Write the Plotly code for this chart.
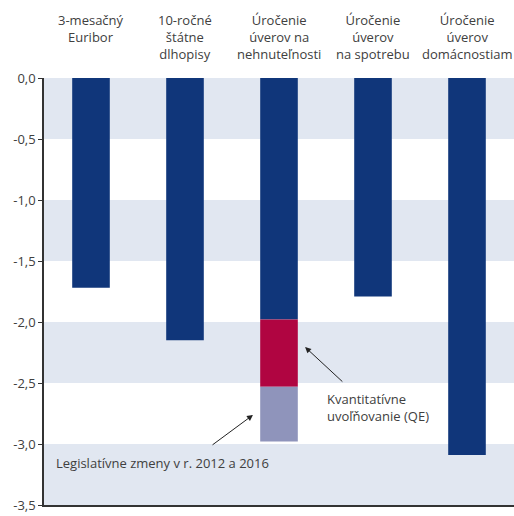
import plotly.graph_objects as go

categories = ["3-mesačný<br>Euribor", "10-ročné<br>štátne<br>dlhopisy",
              "Úročenie<br>úverov na<br>nehnuteľnosti", "Úročenie<br>úverov<br>na spotrebu",
              "Úročenie<br>úverov<br>domácnostiam"]
base_values = [-1.72, -2.15, -1.98, -1.79, -3.09]
qe_values = [0, 0, -0.55, 0, 0]
legis_values = [0, 0, -0.45, 0, 0]
y_ticks = [0.0, -0.5, -1.0, -1.5, -2.0, -2.5, -3.0, -3.5]
y_tick_labels = ["0,0", "-0,5", "-1,0", "-1,5", "-2,0", "-2,5", "-3,0", "-3,5"]

NAVY = "#10367a"
RED = "#b00541"
LAV = "#8f94bb"
BAND = "#e1e7f1"
TXT = "#404040"
FONT = "Open Sans"

xs = list(range(len(categories)))
fig = go.Figure()
fig.add_bar(x=xs, y=base_values, marker_color=NAVY, marker_line_width=0, width=0.4)
fig.add_bar(x=xs, y=qe_values, marker_color=RED, marker_line_width=0, width=0.4)
fig.add_bar(x=xs, y=legis_values, marker_color=LAV, marker_line_width=0, width=0.4)

shapes = []
for top in [0.0, -1.0, -2.0, -3.0]:
    shapes.append(dict(type="rect", xref="paper", yref="y", x0=0, x1=1, y0=top, y1=top - 0.5,
                       fillcolor=BAND, line_width=0, layer="below"))

annotations = []
for i, c in enumerate(categories):
    annotations.append(dict(x=i, y=1, xref="x", yref="paper", text=c, showarrow=False,
                            yanchor="top", yshift=69, align="center",
                            font=dict(family=FONT, size=13, color=TXT)))

annotations.append(dict(x=2.49, y=-2.54, xref="x", yref="y", text="Kvantitatívne<br>uvoľňovanie (QE)",
                        showarrow=False, xanchor="left", yanchor="top", align="left",
                        font=dict(family=FONT, size=13, color=TXT)))
annotations.append(dict(x=-0.394, y=-3.156, xref="x", yref="y", text="Legislatívne zmeny v r. 2012 a 2016",
                        showarrow=False, xanchor="left", yanchor="middle", align="left",
                        font=dict(family=FONT, size=13, color=TXT)))
# arrows
annotations.append(dict(x=2.277, y=-2.205, ax=2.69, ay=-2.5, xref="x", yref="y", axref="x", ayref="y",
                        text="", showarrow=True, arrowhead=2, arrowsize=1.2, arrowwidth=1, arrowcolor="#222"))
annotations.append(dict(x=1.723, y=-2.762, ax=1.277, ay=-3.016, xref="x", yref="y", axref="x", ayref="y",
                        text="", showarrow=True, arrowhead=2, arrowsize=1.2, arrowwidth=1, arrowcolor="#222"))

fig.update_layout(
    width=514, height=516,
    margin=dict(l=44, r=0, t=78, b=11),
    barmode="relative",
    showlegend=False,
    plot_bgcolor="white", paper_bgcolor="white",
    shapes=shapes, annotations=annotations,
    xaxis=dict(range=[-0.5, 4.5], showticklabels=False, ticks="", showgrid=False, zeroline=False,
               showline=True, linecolor="#333", linewidth=1.5),
    yaxis=dict(range=[-3.5, 0], tickvals=y_ticks, ticktext=y_tick_labels, ticks="outside", ticklen=4,
               tickcolor="#333", showgrid=False, zeroline=False, showline=True, linecolor="#333",
               linewidth=1.5, tickfont=dict(family=FONT, size=13, color=TXT)),
    font=dict(family=FONT, size=13, color=TXT),
)

fig.write_html("out.html")
